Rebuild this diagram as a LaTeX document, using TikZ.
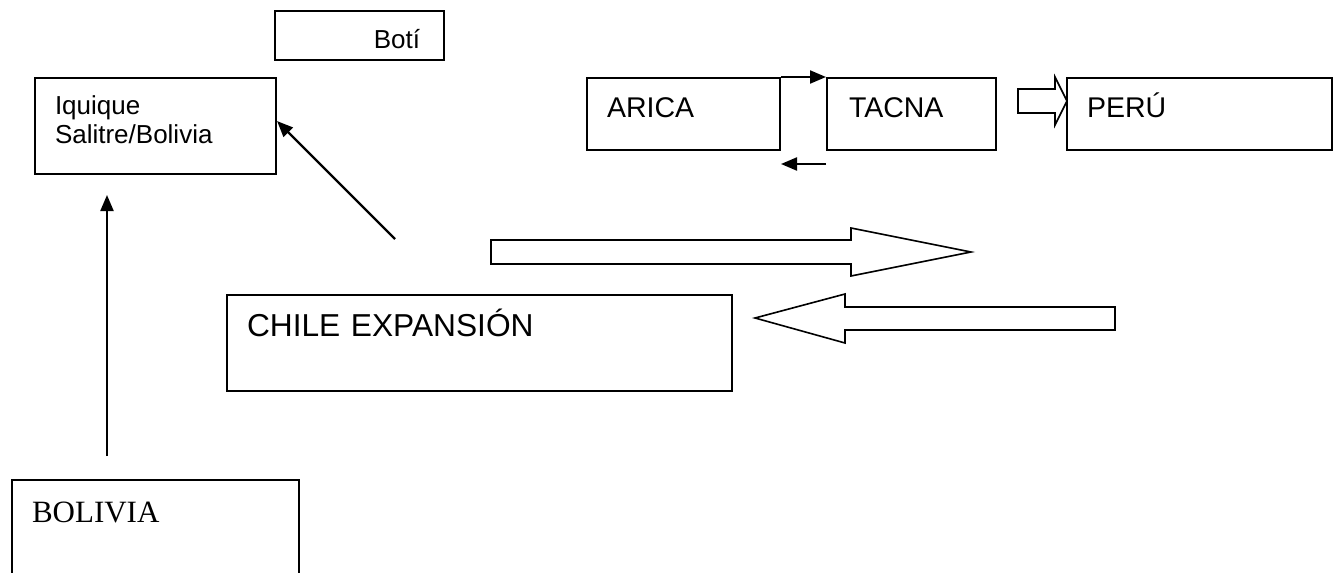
\documentclass[tikz,border=0pt]{standalone}
\usepackage{fontspec}
\setmainfont{Liberation Sans}
\newfontfamily\timesfont{Liberation Serif}
\usetikzlibrary{arrows.meta}

\tikzset{
	box/.style={draw, rectangle, line width=2pt, inner ysep=0pt, inner xsep=20pt, anchor=north west, align=left},
	link/.style={line width=2.2pt, -{Triangle[length=16pt,width=13pt]}},
	blockarrow/.style={draw, line width=1.6pt, line join=miter},
}

\begin{document}
\begin{tikzpicture}[x=1pt, y=-1pt]
	\clip (0,0) rectangle (1339,573);

	% boxes
	\node[box, align=right, inner xsep=24pt, text width=121pt, text height=37pt, text depth=12pt, font=\fontsize{26}{29}\selectfont] (boti) at (274,10) {Botí};
	\node[box, text width=201pt, text height=36pt, text depth=60pt, font=\fontsize{26}{29}\selectfont] (iquique) at (34,77) {Iquique\\Salitre/Bolivia};
	\node[box, text width=153pt, text height=39pt, text depth=33pt, font=\fontsize{28.5}{34}\selectfont] (arica) at (586,77) {ARICA};
	\node[box, inner xsep=22pt, text width=125pt, text height=39pt, text depth=33pt, font=\fontsize{28.5}{34}\selectfont] (tacna) at (826,77) {TACNA};
	\node[box, text width=225pt, text height=39pt, text depth=33pt, font=\fontsize{28.5}{34}\selectfont] (peru) at (1066,77) {PERÚ};
	\node[box, text width=465pt, text height=41pt, text depth=55pt, font=\fontsize{31.7}{38}\selectfont] (chile) at (226,294) {CHILE EXPANSIÓN};
	\node[box, text width=247pt, text height=42pt, text depth=79pt, font=\timesfont\fontsize{31}{37}\selectfont] (bolivia) at (11,479) {BOLIVIA};

	% arrows
	\draw[link] ([xshift=96pt, yshift=23pt]bolivia.north west) -- ([xshift=73pt, yshift=-20pt]iquique.south west);
	\draw[link] ([xshift=169pt, yshift=55pt]chile.north west) -- ([yshift=5pt]iquique.east);
	\draw[link] (arica.north east) -- (tacna.north west);
	\draw[link] ([yshift=-13pt]tacna.south west) -- ([yshift=-13pt]arica.south east);

	% block arrows
	\draw[blockarrow] (1018,89) -- (1055,89) -- (1055,77) -- (1067,101) -- (1055,125) -- (1055,113) -- (1018,113) -- cycle;
	\draw[blockarrow] (491,240) -- (851,240) -- (851,228) -- (971,252) -- (851,276) -- (851,264) -- (491,264) -- cycle;
	\draw[blockarrow] (1115,307) -- (845,307) -- (845,294) -- (755,318) -- (845,343) -- (845,330) -- (1115,330) -- cycle;
\end{tikzpicture}
\end{document}
